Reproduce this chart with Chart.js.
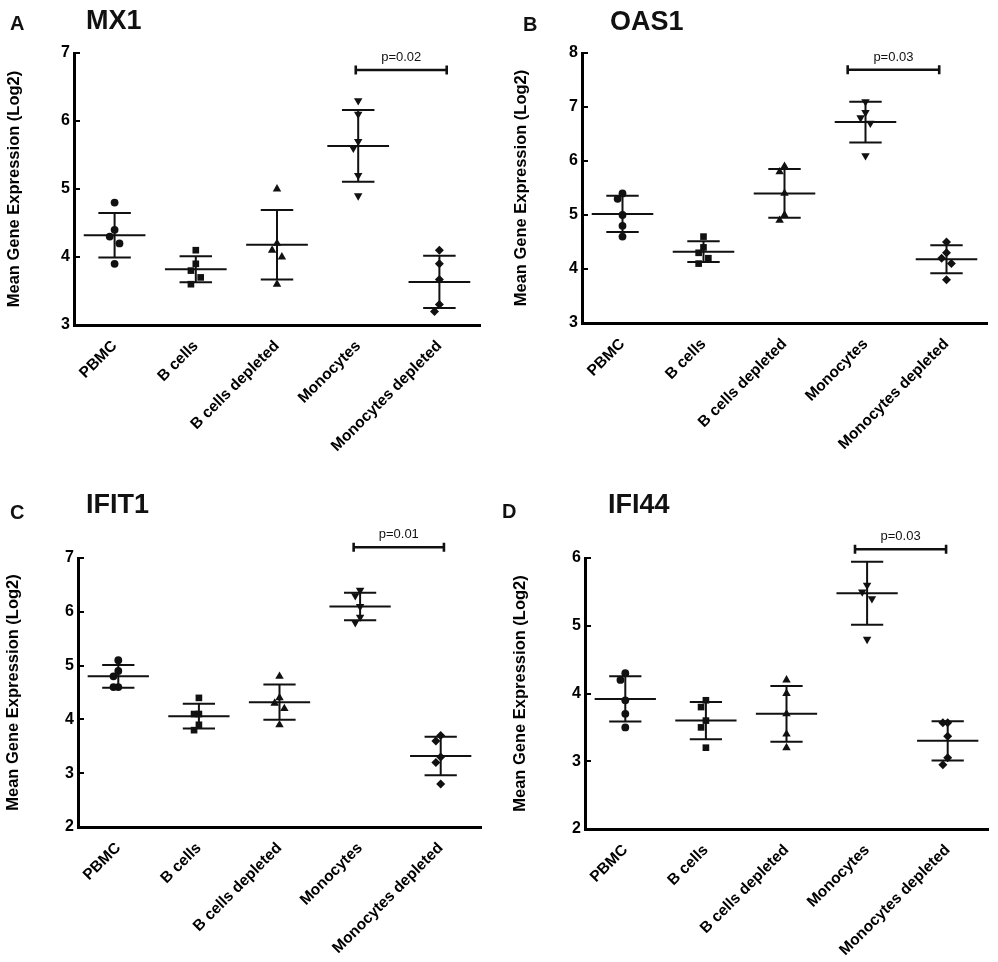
<!DOCTYPE html>
<html>
<head>
<meta charset="utf-8">
<title>Mean gene expression by cell fraction</title>
<script src="https://cdn.jsdelivr.net/npm/chart.js@4/dist/chart.umd.min.js"></script>
<style>
  html, body { margin: 0; padding: 0; background: #fff; }
  #fig { position: relative; width: 998px; height: 962px; }
  .panel { position: absolute; width: 499px; height: 481px; }
</style>
</head>
<body>
<div id="fig">
  <div class="panel" style="left:0;top:0"><canvas id="chartA"></canvas></div>
  <div class="panel" style="left:499px;top:0"><canvas id="chartB"></canvas></div>
  <div class="panel" style="left:0;top:481px"><canvas id="chartC"></canvas></div>
  <div class="panel" style="left:499px;top:481px"><canvas id="chartD"></canvas></div>
</div>
<script>
// groups on the x axis
const categories = ['PBMC', 'B cells', 'B cells depleted', 'Monocytes', 'Monocytes depleted'];

// log2 expression per donor, one list per group (same order as categories)
const mx1Values = [
  [4.8, 4.4, 4.3, 4.2, 3.9],
  [4.1, 3.9, 3.8, 3.7, 3.6],
  [5.0, 4.2, 4.1, 4.0, 3.6],
  [6.3, 6.1, 5.7, 5.6, 5.2, 4.9],
  [4.1, 3.9, 3.67, 3.3, 3.2]
];
const oas1Values = [
  [5.4, 5.3, 5.0, 4.8, 4.6],
  [4.6, 4.4, 4.3, 4.2, 4.1],
  [5.9, 5.8, 5.4, 5.0, 4.9],
  [7.1, 6.9, 6.8, 6.7, 6.1],
  [4.5, 4.3, 4.2, 4.1, 3.8]
];
const ifit1Values = [
  [5.1, 4.9, 4.8, 4.6, 4.6],
  [4.4, 4.1, 4.1, 3.9, 3.8],
  [4.8, 4.4, 4.3, 4.2, 3.9],
  [6.4, 6.3, 6.1, 5.9, 5.8],
  [3.7, 3.6, 3.3, 3.2, 2.8]
];
const ifi44Values = [
  [4.3, 4.2, 3.9, 3.7, 3.5],
  [3.9, 3.8, 3.6, 3.5, 3.2],
  [4.2, 4.0, 3.7, 3.4, 3.2],
  [6.1, 5.6, 5.5, 5.4, 4.8],   // 6.1 sits above the axis top, hidden like in the figure
  [3.57, 3.57, 3.37, 3.05, 2.95]
];

const geneNames = ['MX1', 'OAS1', 'IFIT1', 'IFI44'];
const panelLetters = ['A', 'B', 'C', 'D'];
const pLabels = ['p=0.02', 'p=0.03', 'p=0.01', 'p=0.03'];
const yRanges = [[3, 7], [3, 8], [2, 7], [2, 6]];

// ---- layout (canvas px, each canvas 499 x 481) ----
const FONT = "'Liberation Sans', Arial, Helvetica, sans-serif";
const INK = '#111';
const panels = [
  { id: 'chartA', values: mx1Values, area: { l: 74, t: 53, r: 480, b: 325 }, titlePad: 5,
    letterAt: [10, 30], geneAt: [86, 29], bracket: { from: 2.97, to: 4.09, y: 6.75 } },
  { id: 'chartB', values: oas1Values, area: { l: 83, t: 53, r: 488, b: 323 }, titlePad: 13,
    letterAt: [24, 31], geneAt: [111, 30], bracket: { from: 2.78, to: 3.91, y: 7.69 } },
  { id: 'chartC', values: ifit1Values, area: { l: 78, t: 77, r: 481, b: 346 }, titlePad: 4,
    letterAt: [10, 38], geneAt: [86, 32], bracket: { from: 2.92, to: 4.04, y: 7.2 } },
  { id: 'chartD', values: ifi44Values, area: { l: 86, t: 77, r: 489, b: 348 }, titlePad: 12,
    letterAt: [3, 37], geneAt: [109, 32], bracket: { from: 2.85, to: 3.98, y: 6.13 } }
];

const markers = [
  { style: 'circle', radius: 3.9, rotation: 0 },
  { style: 'rect', radius: 4.7, rotation: 0 },
  { style: 'triangle', radius: 4.9, rotation: 0 },
  { style: 'triangle', radius: 4.9, rotation: 180 },
  { style: 'rectRot', radius: 4.5, rotation: 0 }
];

const MEAN_HALF = 0.38;   // half width of the mean bar, in category units
const CAP_HALF = 0.2;     // half width of the SD caps
const SPREAD = 0.06;      // sideways nudge for points that would overlap

function mean(a) { return a.reduce((s, v) => s + v, 0) / a.length; }
function sd(a) {
  const m = mean(a);
  return Math.sqrt(a.reduce((s, v) => s + (v - m) * (v - m), 0) / (a.length - 1));
}

// scatter-dot style spreading: a point close to an earlier one goes to the other side
function spread(vals) {
  const off = [];
  vals.forEach((v, k) => {
    let near = -1, best = 0.13;
    for (let j = 0; j < k; j++) {
      const d = Math.abs(vals[j] - v);
      if (d < best) { best = d; near = j; }
    }
    off.push(near < 0 ? 0 : (off[near] < 0 ? 1 : -1));
  });
  return off.map(o => o * SPREAD);
}

const decoPlugin = {
  id: 'deco',
  afterDatasetsDraw(chart, args, opts) {
    const { ctx, scales: { x, y } } = chart;
    ctx.save();
    ctx.strokeStyle = INK;
    ctx.lineWidth = 2;
    opts.values.forEach((vals, i) => {
      const m = mean(vals), s = sd(vals);
      const cx = x.getPixelForValue(i);
      const ym = y.getPixelForValue(m);
      const yt = y.getPixelForValue(m + s);
      const yb = y.getPixelForValue(m - s);
      const mx0 = x.getPixelForValue(i - MEAN_HALF), mx1 = x.getPixelForValue(i + MEAN_HALF);
      const cx0 = x.getPixelForValue(i - CAP_HALF), cx1 = x.getPixelForValue(i + CAP_HALF);
      ctx.beginPath();
      ctx.moveTo(mx0, ym); ctx.lineTo(mx1, ym);
      ctx.moveTo(cx, yt); ctx.lineTo(cx, yb);
      ctx.moveTo(cx0, yt); ctx.lineTo(cx1, yt);
      ctx.moveTo(cx0, yb); ctx.lineTo(cx1, yb);
      ctx.stroke();
    });
    ctx.restore();
  },
  afterDraw(chart, args, opts) {
    const { ctx, chartArea, scales: { x, y } } = chart;
    ctx.save();
    // y tick marks point into the plot, as in the original
    ctx.strokeStyle = '#000';
    ctx.lineWidth = 2;
    ctx.beginPath();
    y.ticks.forEach(t => {
      const py = Math.round(y.getPixelForValue(t.value));
      ctx.moveTo(chartArea.left, py);
      ctx.lineTo(chartArea.left + 6, py);
    });
    ctx.stroke();
    // significance bracket
    const bx0 = x.getPixelForValue(opts.bracket.from);
    const bx1 = x.getPixelForValue(opts.bracket.to);
    const by = y.getPixelForValue(opts.bracket.y);
    ctx.strokeStyle = INK;
    ctx.lineWidth = 2.6;
    ctx.beginPath();
    ctx.moveTo(bx0, by); ctx.lineTo(bx1, by);
    ctx.moveTo(bx0, by - 4.5); ctx.lineTo(bx0, by + 4.5);
    ctx.moveTo(bx1, by - 4.5); ctx.lineTo(bx1, by + 4.5);
    ctx.stroke();
    ctx.fillStyle = INK;
    ctx.font = '13px ' + FONT;
    ctx.textAlign = 'center';
    ctx.textBaseline = 'alphabetic';
    ctx.fillText(opts.p, (bx0 + bx1) / 2, by - 9);
    // panel letter and gene name
    ctx.textAlign = 'left';
    ctx.font = 'bold 20px ' + FONT;
    ctx.fillText(opts.letter, opts.letterAt[0], opts.letterAt[1]);
    ctx.font = 'bold 27px ' + FONT;
    ctx.fillText(opts.gene, opts.geneAt[0], opts.geneAt[1]);
    ctx.restore();
  }
};

Chart.defaults.font.family = FONT;
Chart.defaults.color = INK;

panels.forEach((p, n) => {
  const datasets = p.values.map((vals, i) => {
    const off = spread(vals);
    return {
      label: categories[i],
      data: vals.map((v, k) => ({ x: i + off[k], y: v })),
      pointStyle: markers[i].style,
      pointRadius: markers[i].radius,
      pointRotation: markers[i].rotation,
      pointBackgroundColor: INK,
      pointBorderWidth: 0,
      clip: 0
    };
  });

  new Chart(document.getElementById(p.id), {
    type: 'scatter',
    data: { datasets },
    options: {
      responsive: true,
      maintainAspectRatio: false,
      animation: false,
      layout: { padding: { left: 0, top: p.area.t, right: 499 - p.area.r, bottom: 0 } },
      plugins: {
        legend: { display: false },
        tooltip: { enabled: false },
        deco: {
          values: p.values,
          bracket: p.bracket,
          p: pLabels[n],
          letter: panelLetters[n],
          gene: geneNames[n],
          letterAt: p.letterAt,
          geneAt: p.geneAt
        }
      },
      scales: {
        x: {
          type: 'linear',
          min: -0.5,
          max: 4.5,
          afterBuildTicks: s => { s.ticks = categories.map((c, i) => ({ value: i })); },
          afterFit: s => { s.height = 481 - p.area.b; },
          grid: { display: false },
          border: { display: true, color: '#000', width: 3 },
          ticks: {
            autoSkip: false,
            minRotation: 45,
            maxRotation: 45,
            padding: 4,
            color: '#000',
            font: { size: 15.5, weight: 'bold' },
            callback: v => categories[Math.round(v)]
          }
        },
        y: {
          min: yRanges[n][0],
          max: yRanges[n][1],
          afterFit: s => { s.width = p.area.l; },
          grid: { drawOnChartArea: false, drawTicks: false },
          border: { display: true, color: '#000', width: 3 },
          ticks: { stepSize: 1, padding: 4, color: '#000', font: { size: 16, weight: 'bold' } },
          title: {
            display: true,
            text: 'Mean Gene Expression (Log2)',
            color: '#000',
            font: { size: 16.5, weight: 'bold' },
            padding: { top: p.titlePad, bottom: 0 }
          }
        }
      }
    },
    plugins: [decoPlugin]
  });
});
</script>
</body>
</html>
